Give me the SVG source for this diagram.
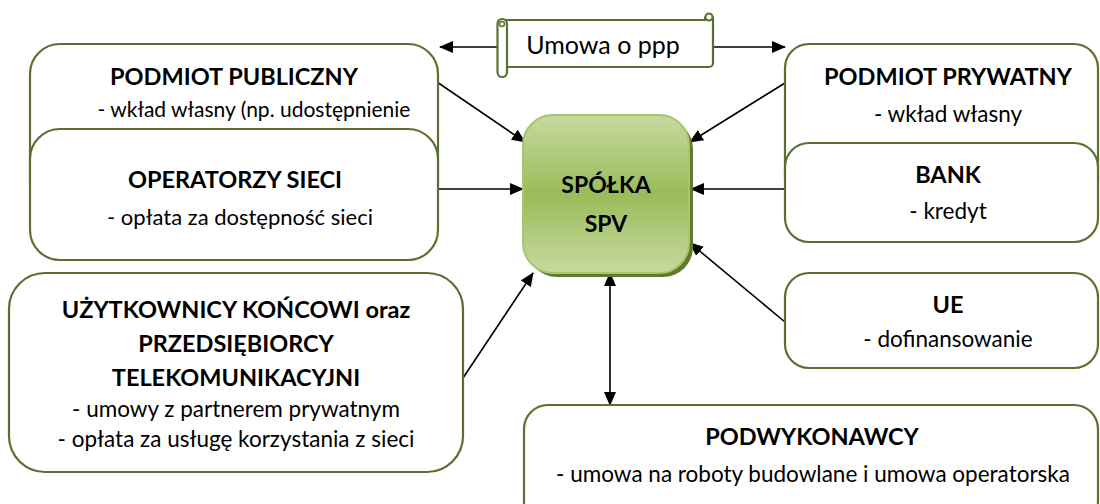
<svg xmlns="http://www.w3.org/2000/svg" width="1100" height="504" viewBox="0 0 1100 504">
<defs>
<linearGradient id="g" x1="0" y1="0" x2="0" y2="1">
<stop offset="0" stop-color="#c6da9f"/>
<stop offset="0.5" stop-color="#9bbb59"/>
<stop offset="1" stop-color="#c6da9f"/>
</linearGradient>
<marker id="ah" markerWidth="14" markerHeight="12" refX="13" refY="6" orient="auto" markerUnits="userSpaceOnUse">
<path d="M0,0 L14,6 L0,12 Z" fill="#000"/>
</marker>
<marker id="as" markerWidth="14" markerHeight="12" refX="1" refY="6" orient="auto" markerUnits="userSpaceOnUse">
<path d="M14,0 L0,6 L14,12 Z" fill="#000"/>
</marker>
</defs>
<style>
.box{fill:#fff;stroke:#5a7031;stroke-width:2.2}
.t{font-family:Lato,"Liberation Sans",sans-serif;fill:#000;text-anchor:middle}
.b{font-weight:bold;font-size:23.5px}
.r{font-size:22.5px}
.c{stroke:#000;stroke-width:1.6;fill:none}
</style>
<rect width="1100" height="504" fill="#fff"/>

<g id="connectors">
<line class="c" x1="497" y1="47" x2="440" y2="47" marker-end="url(#ah)"/>
<line class="c" x1="713" y1="47" x2="785" y2="47" marker-end="url(#ah)"/>
<line class="c" x1="437" y1="82" x2="525" y2="142" marker-end="url(#ah)"/>
<line class="c" x1="438" y1="189" x2="523" y2="189" marker-end="url(#ah)"/>
<line class="c" x1="463" y1="378" x2="533" y2="273" marker-end="url(#ah)"/>
<line class="c" x1="785" y1="83" x2="690" y2="142" marker-end="url(#ah)"/>
<line class="c" x1="785" y1="189" x2="691" y2="189" marker-end="url(#ah)"/>
<line class="c" x1="785" y1="322" x2="690" y2="243" marker-end="url(#ah)"/>
<line class="c" x1="610" y1="273" x2="610" y2="405" marker-start="url(#as)" marker-end="url(#ah)"/>
</g>

<g id="umowa">
<path d="M505,20 H705 A4,4 0 0 1 713,18 V63 A4,4 0 0 1 709,67 H507" fill="#fff" stroke="#5a7031" stroke-width="2.2"/>
<circle cx="709" cy="17" r="3.5" fill="#fff" stroke="#5a7031" stroke-width="2"/>
<rect x="497.5" y="19" width="9.5" height="58" rx="4.7" fill="#fff" stroke="#5a7031" stroke-width="2.2"/>
<circle cx="502" cy="24" r="2.5" fill="#fff" stroke="#5a7031" stroke-width="1.5"/>
<text class="t" x="603" y="54" style="font-size:25px">Umowa o ppp</text>
</g>

<g id="podmiot-publiczny">
<rect class="box" x="30" y="44" width="408" height="170" rx="30"/>
<text class="t b" x="234" y="85">PODMIOT PUBLICZNY</text>
<text class="t r" x="254" y="117" style="font-size:21px">- wkład własny (np. udostępnienie</text>
</g>

<g id="operatorzy">
<rect class="box" x="30" y="129" width="408" height="131" rx="30"/>
<text class="t b" x="235" y="188">OPERATORZY SIECI</text>
<text class="t r" x="240" y="225" style="font-size:22px">- opłata za dostępność sieci</text>
</g>

<g id="uzytkownicy">
<rect class="box" x="9" y="273" width="454" height="199" rx="36"/>
<text class="t b" x="236" y="318">UŻYTKOWNICY KOŃCOWI oraz</text>
<text class="t b" x="236" y="352">PRZEDSIĘBIORCY</text>
<text class="t b" x="236" y="386">TELEKOMUNIKACYJNI</text>
<text class="t r" x="236" y="417">- umowy z partnerem prywatnym</text>
<text class="t r" x="236" y="447">- opłata za usługę korzystania z sieci</text>
</g>

<g id="podmiot-prywatny">
<rect class="box" x="785" y="44" width="313" height="160" rx="24"/>
<text class="t b" x="948" y="85">PODMIOT PRYWATNY</text>
<text class="t r" x="948" y="122">- wkład własny</text>
</g>

<g id="bank">
<rect class="box" x="785" y="143" width="313" height="99" rx="24"/>
<text class="t b" x="948" y="183">BANK</text>
<text class="t r" x="948" y="219">- kredyt</text>
</g>

<g id="ue">
<rect class="box" x="785" y="273" width="313" height="95" rx="24"/>
<text class="t b" x="948" y="313">UE</text>
<text class="t r" x="948" y="347">- dofinansowanie</text>
</g>

<g id="podwykonawcy">
<rect class="box" x="524" y="405" width="574" height="120" rx="24"/>
<text class="t b" x="812" y="445">PODWYKONAWCY</text>
<text class="t r" x="813" y="482">- umowa na roboty budowlane i umowa operatorska</text>
</g>

<g id="spolka">
<rect x="527" y="119" width="166" height="158" rx="30" fill="#5f7b2c"/>
<rect x="523" y="115" width="166" height="158" rx="30" fill="url(#g)" stroke="#a9c46f" stroke-width="2"/>
<text class="t b" x="606" y="193" style="font-size:23px">SPÓŁKA</text>
<text class="t b" x="606" y="232" style="font-size:23px">SPV</text>
</g>
</svg>
